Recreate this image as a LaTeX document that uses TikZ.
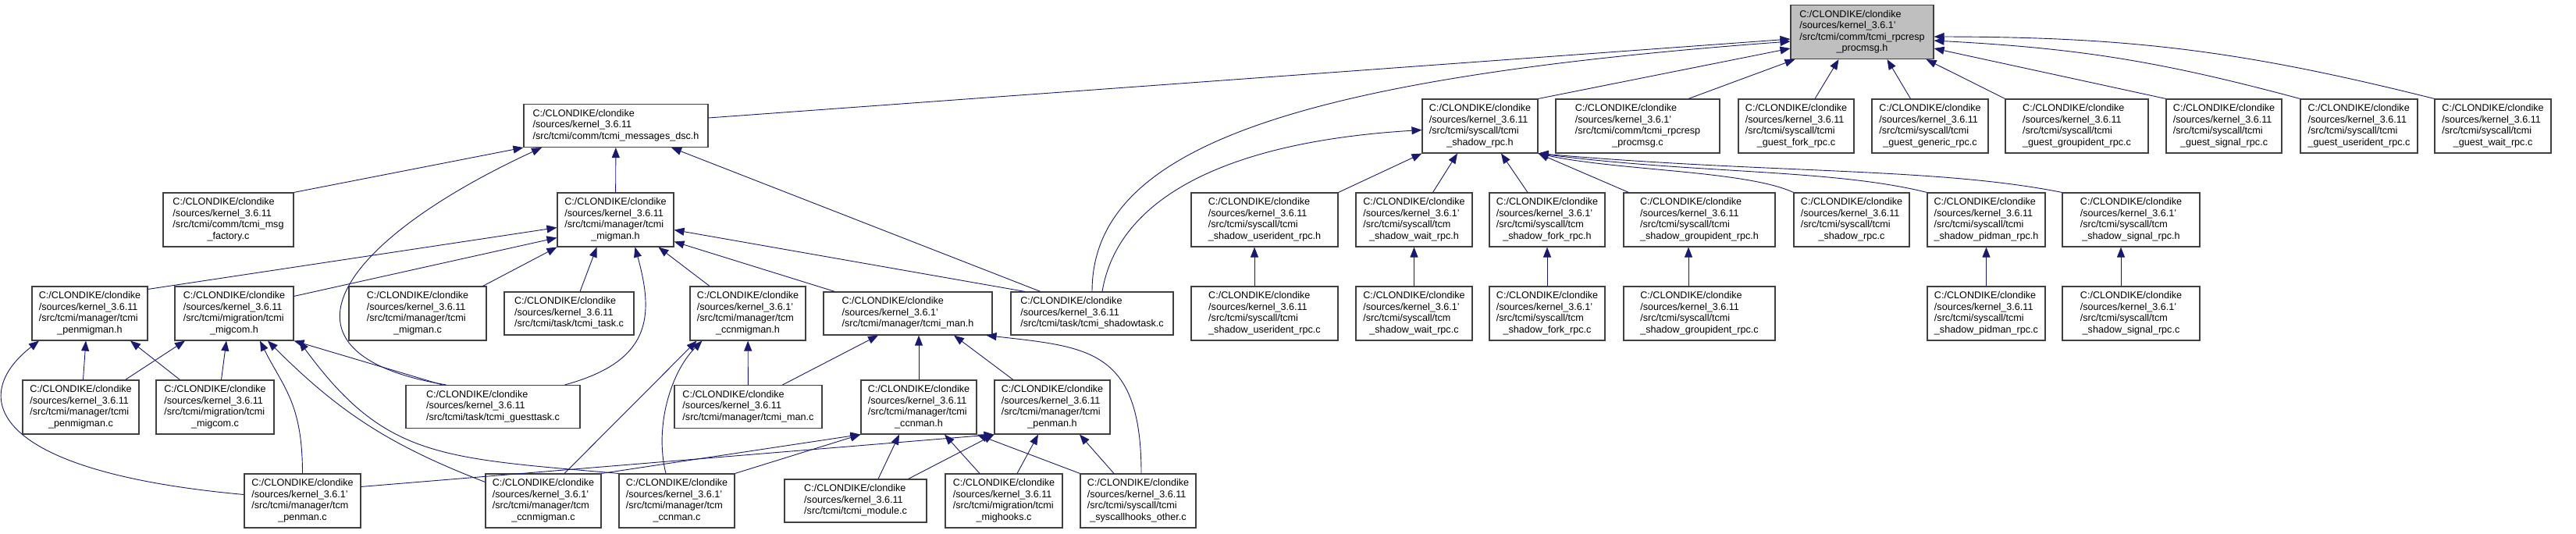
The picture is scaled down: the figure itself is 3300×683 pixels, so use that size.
\documentclass[tikz,border=0pt]{standalone}
\usepackage{fontspec}
\setmainfont{Liberation Sans}
\usepackage{xcolor}
\usepackage{tikz}
\usetikzlibrary{calc,arrows.meta}
\definecolor{edgeblue}{HTML}{191970}
\definecolor{boxline}{HTML}{404040}
\definecolor{rootfill}{HTML}{BFBFBF}
% file label: first three lines flush left, last line centred
\newcommand{\incfile}[3]{\begin{tabular}{@{}l@{}}C:/CLONDIKE/clondike\\#1\\#2\\\multicolumn{1}{@{}c@{}}{#3}\end{tabular}}
\newcommand{\incfileshort}[2]{\begin{tabular}{@{}l@{}}C:/CLONDIKE/clondike\\#1\\#2\end{tabular}}
\tikzset{
  % --- file boxes ---
  incbox/.style={draw=boxline, line width=1.1pt, fill=white, rectangle,
                 inner sep=0pt, minimum height=69pt,
                 font=\fontsize{12.6}{14.5}\selectfont},
  incbox3/.style={incbox, minimum height=55pt},
  rootbox/.style={incbox, fill=rootfill},
  % --- include edges (tip at the included file) ---
  incl/.style={draw=edgeblue, line width=0.9pt,
               -{Triangle[length=13pt,width=10pt]}},
}

\begin{document}
\begin{tikzpicture}[x=1pt,y=1pt]
  \useasboundingbox (0,0) rectangle (3300,-683);

  % --- root header ---
  \node[rootbox, minimum width=183pt] (R) at (2385.5,-41)
        {\incfile{/sources/kernel\_3.6.1'}{/src/tcmi/comm/tcmi\_rpcresp}{\_procmsg.h}};

  % --- row 1 ---
  \node[incbox3, minimum width=236pt] (dsc) at (789,-161)
        {\incfileshort{/sources/kernel\_3.6.11}{/src/tcmi/comm/tcmi\_messages\_dsc.h}};
  \node[incbox, minimum width=148pt] (srh) at (1896,-161.5)
        {\incfile{/sources/kernel\_3.6.11}{/src/tcmi/syscall/tcmi}{\_shadow\_rpc.h}};
  \node[incbox, minimum width=210pt] (rpc) at (2098,-161.5)
        {\incfile{/sources/kernel\_3.6.1'}{/src/tcmi/comm/tcmi\_rpcresp}{\_procmsg.c}};
  \node[incbox, minimum width=148pt] (gfork) at (2301,-161.5)
        {\incfile{/sources/kernel\_3.6.11}{/src/tcmi/syscall/tcmi}{\_guest\_fork\_rpc.c}};
  \node[incbox, minimum width=149pt] (ggen) at (2472.5,-161.5)
        {\incfile{/sources/kernel\_3.6.11}{/src/tcmi/syscall/tcmi}{\_guest\_generic\_rpc.c}};
  \node[incbox, minimum width=183pt] (ggrp) at (2660.5,-161.5)
        {\incfile{/sources/kernel\_3.6.11}{/src/tcmi/syscall/tcmi}{\_guest\_groupident\_rpc.c}};
  \node[incbox, minimum width=148pt] (gsig) at (2849,-161.5)
        {\incfile{/sources/kernel\_3.6.11}{/src/tcmi/syscall/tcmi}{\_guest\_signal\_rpc.c}};
  \node[incbox, minimum width=150pt] (guser) at (3022,-161.5)
        {\incfile{/sources/kernel\_3.6.11}{/src/tcmi/syscall/tcmi}{\_guest\_userident\_rpc.c}};
  \node[incbox, minimum width=149pt] (gwait) at (3193.5,-161.5)
        {\incfile{/sources/kernel\_3.6.11}{/src/tcmi/syscall/tcmi}{\_guest\_wait\_rpc.c}};

  % --- row 2 ---
  \node[incbox, minimum width=167pt] (factory) at (292.5,-281.5)
        {\incfile{/sources/kernel\_3.6.11}{/src/tcmi/comm/tcmi\_msg}{\_factory.c}};
  \node[incbox, minimum width=149pt] (migmanh) at (788.5,-281.5)
        {\incfile{/sources/kernel\_3.6.11}{/src/tcmi/manager/tcmi}{\_migman.h}};
  \node[incbox, minimum width=188pt] (suserh) at (1620,-281.5)
        {\incfile{/sources/kernel\_3.6.11}{/src/tcmi/syscall/tcmi}{\_shadow\_userident\_rpc.h}};
  \node[incbox, minimum width=149pt] (swaith) at (1811.5,-281.5)
        {\incfile{/sources/kernel\_3.6.1'}{/src/tcmi/syscall/tcm}{\_shadow\_wait\_rpc.h}};
  \node[incbox, minimum width=148pt] (sforkh) at (1982,-281.5)
        {\incfile{/sources/kernel\_3.6.1'}{/src/tcmi/syscall/tcm}{\_shadow\_fork\_rpc.h}};
  \node[incbox, minimum width=194pt] (sgrouph) at (2177,-281.5)
        {\incfile{/sources/kernel\_3.6.11}{/src/tcmi/syscall/tcmi}{\_shadow\_groupident\_rpc.h}};
  \node[incbox, minimum width=148pt] (srpcc) at (2372,-281.5)
        {\incfile{/sources/kernel\_3.6.11}{/src/tcmi/syscall/tcmi}{\_shadow\_rpc.c}};
  \node[incbox, minimum width=151pt] (spidh) at (2544.5,-281.5)
        {\incfile{/sources/kernel\_3.6.11}{/src/tcmi/syscall/tcmi}{\_shadow\_pidman\_rpc.h}};
  \node[incbox, minimum width=176pt] (ssigh) at (2730,-281.5)
        {\incfile{/sources/kernel\_3.6.1'}{/src/tcmi/syscall/tcm}{\_shadow\_signal\_rpc.h}};

  % --- row 3 ---
  \node[incbox, minimum width=148pt] (penmigh) at (115,-401.5)
        {\incfile{/sources/kernel\_3.6.11}{/src/tcmi/manager/tcmi}{\_penmigman.h}};
  \node[incbox, minimum width=152pt] (migcomh) at (300,-401.5)
        {\incfile{/sources/kernel\_3.6.11}{/src/tcmi/migration/tcmi}{\_migcom.h}};
  \node[incbox, minimum width=176pt] (migmanc) at (535,-401.5)
        {\incfile{/sources/kernel\_3.6.11}{/src/tcmi/manager/tcmi}{\_migman.c}};
  \node[incbox3, minimum width=166pt] (taskc) at (729,-401.5)
        {\incfileshort{/sources/kernel\_3.6.11}{/src/tcmi/task/tcmi\_task.c}};
  \node[incbox, minimum width=148pt] (ccnmigh) at (958,-401.5)
        {\incfile{/sources/kernel\_3.6.1'}{/src/tcmi/manager/tcm}{\_ccnmigman.h}};
  \node[incbox3, minimum width=216pt] (manh) at (1163,-401.5)
        {\incfileshort{/sources/kernel\_3.6.1'}{/src/tcmi/manager/tcmi\_man.h}};
  \node[incbox3, minimum width=208pt] (stc) at (1399,-401.5)
        {\incfileshort{/sources/kernel\_3.6.11}{/src/tcmi/task/tcmi\_shadowtask.c}};
  \node[incbox, minimum width=188pt] (suserc) at (1620,-401.5)
        {\incfile{/sources/kernel\_3.6.11}{/src/tcmi/syscall/tcmi}{\_shadow\_userident\_rpc.c}};
  \node[incbox, minimum width=149pt] (swaitc) at (1811.5,-401.5)
        {\incfile{/sources/kernel\_3.6.1'}{/src/tcmi/syscall/tcm}{\_shadow\_wait\_rpc.c}};
  \node[incbox, minimum width=148pt] (sforkc) at (1982,-401.5)
        {\incfile{/sources/kernel\_3.6.1'}{/src/tcmi/syscall/tcm}{\_shadow\_fork\_rpc.c}};
  \node[incbox, minimum width=194pt] (sgroupc) at (2177,-401.5)
        {\incfile{/sources/kernel\_3.6.11}{/src/tcmi/syscall/tcmi}{\_shadow\_groupident\_rpc.c}};
  \node[incbox, minimum width=151pt] (spidc) at (2544.5,-401.5)
        {\incfile{/sources/kernel\_3.6.11}{/src/tcmi/syscall/tcmi}{\_shadow\_pidman\_rpc.c}};
  \node[incbox, minimum width=176pt] (ssigc) at (2730,-401.5)
        {\incfile{/sources/kernel\_3.6.1'}{/src/tcmi/syscall/tcm}{\_shadow\_signal\_rpc.c}};

  % --- row 4 ---
  \node[incbox, minimum width=149pt] (penmigc) at (103.5,-521.5)
        {\incfile{/sources/kernel\_3.6.11}{/src/tcmi/manager/tcmi}{\_penmigman.c}};
  \node[incbox, minimum width=151pt] (migcomc) at (275.5,-521.5)
        {\incfile{/sources/kernel\_3.6.11}{/src/tcmi/migration/tcmi}{\_migcom.c}};
  \node[incbox3, minimum width=223pt] (gtc) at (631.5,-521)
        {\incfileshort{/sources/kernel\_3.6.11}{/src/tcmi/task/tcmi\_guesttask.c}};
  \node[incbox3, minimum width=189pt] (manc) at (958.5,-521)
        {\incfileshort{/sources/kernel\_3.6.11}{/src/tcmi/manager/tcmi\_man.c}};
  \node[incbox, minimum width=148pt] (ccnmanh) at (1177,-521.5)
        {\incfile{/sources/kernel\_3.6.11}{/src/tcmi/manager/tcmi}{\_ccnman.h}};
  \node[incbox, minimum width=148pt] (penmanh) at (1348,-521.5)
        {\incfile{/sources/kernel\_3.6.11}{/src/tcmi/manager/tcmi}{\_penman.h}};

  % --- row 5 ---
  \node[incbox, minimum width=149pt] (penmanc) at (387.5,-641.5)
        {\incfile{/sources/kernel\_3.6.1'}{/src/tcmi/manager/tcm}{\_penman.c}};
  \node[incbox, minimum width=148pt] (ccnmigc) at (696,-641.5)
        {\incfile{/sources/kernel\_3.6.1'}{/src/tcmi/manager/tcm}{\_ccnmigman.c}};
  \node[incbox, minimum width=148pt] (ccnmanc) at (867,-641.5)
        {\incfile{/sources/kernel\_3.6.1'}{/src/tcmi/manager/tcm}{\_ccnman.c}};
  \node[incbox3, minimum width=182pt] (modulec) at (1096,-641.5)
        {\incfileshort{/sources/kernel\_3.6.11}{/src/tcmi/tcmi\_module.c}};
  \node[incbox, minimum width=150pt] (mighooksc) at (1286,-641.5)
        {\incfile{/sources/kernel\_3.6.11}{/src/tcmi/migration/tcmi}{\_mighooks.c}};
  \node[incbox, minimum width=148pt] (otherc) at (1458,-641.5)
        {\incfile{/sources/kernel\_3.6.11}{/src/tcmi/syscall/tcmi}{\_syscallhooks\_other.c}};

  % --- edges into the root header ---
  \draw[incl] ([yshift=10pt]dsc.east) -- ([yshift=-9pt]R.west);
  \draw[incl] (stc.north) .. controls ($(stc.north)+(0,180)$) and ($(R.west)+(-650,-60)$) .. ([yshift=-12pt]R.west);
  \draw[incl] (srh.north east) -- ([yshift=-21pt]R.west);
  \draw[incl] ([xshift=65pt]rpc.north) -- ([xshift=6pt]R.south west);
  \draw[incl] ([xshift=24pt]gfork.north) -- ([xshift=-30pt]R.south);
  \draw[incl] ([xshift=-25pt]ggen.north) -- ([xshift=32pt]R.south);
  \draw[incl] (ggrp.north west) -- ([xshift=-10pt]R.south east);
  \draw[incl] (gsig.north west) -- ([yshift=-21pt]R.east);
  \draw[incl] (guser.north west) to[bend right=6] ([yshift=-11pt]R.east);
  \draw[incl] (gwait.north west) to[bend right=7] ([yshift=-6pt]R.east);

  % --- shadow_rpc.h ---
  \draw[incl] ([xshift=13pt]stc.north) .. controls ($(stc.north)+(33,120)$) and ($(srh.west)+(-250,-20)$) .. ([yshift=-5pt]srh.west);
  \draw[incl] (suserh.north east) -- (srh.south west);
  \draw[incl] ([xshift=24pt]swaith.north) -- ([xshift=-29pt]srh.south);
  \draw[incl] ([xshift=-25pt]sforkh.north) -- ([xshift=27pt]srh.south);
  \draw[incl] ([xshift=7pt]sgrouph.north west) -- (srh.south east);
  \draw[incl] (srpcc.north west) .. controls ($(srpcc.north west)+(-60,28)$) and ($(srh.south east)+(100,-22)$) .. (srh.south east);
  \draw[incl] (spidh.north west) .. controls ($(spidh.north west)+(-120,30)$) and ($(srh.south east)+(200,-26)$) .. (srh.south east);
  \draw[incl] (ssigh.north west) .. controls ($(ssigh.north west)+(-160,32)$) and ($(srh.south east)+(300,-26)$) .. (srh.south east);

  % --- shadow sources up to their headers ---
  \draw[incl] ([xshift=-13pt]suserc.north) -- ([xshift=-13pt]suserh.south);
  \draw[incl] (swaitc) -- (swaith);
  \draw[incl] (sforkc) -- (sforkh);
  \draw[incl] ([xshift=-14pt]sgroupc.north) -- ([xshift=-14pt]sgrouph.south);
  \draw[incl] (spidc) -- (spidh);
  \draw[incl] ([xshift=-13pt]ssigc.north) -- ([xshift=-13pt]ssigh.south);

  % --- tcmi_messages_dsc.h ---
  \draw[incl] (factory.north east) -- (dsc.south west);
  \draw[incl] ([xshift=-60pt]gtc.north) .. controls ($(gtc.north)+(-300,40)$) and ($(dsc.south)+(-355,-120)$) .. ([xshift=-95pt]dsc.south);
  \draw[incl] (migmanh) -- (dsc);
  \draw[incl] ([xshift=-66pt]stc.north) -- ([xshift=71pt]dsc.south);

  % --- tcmi_migman.h ---
  \draw[incl] ([yshift=-4pt]penmigh.north east) -- ([yshift=-10pt]migmanh.west);
  \draw[incl] ([yshift=-13pt]migcomh.north east) -- ([yshift=-23pt]migmanh.west);
  \draw[incl] ([xshift=-5pt]migmanc.north east) -- (migmanh.south west);
  \draw[incl] ([xshift=14pt]taskc.north) -- ([xshift=-24pt]migmanh.south);
  \draw[incl] ([xshift=-20pt]gtc.north east) .. controls ($(gtc.north east)+(90,30)$) and ($(migmanh.south)+(50,-90)$) .. ([xshift=25pt]migmanh.south);
  \draw[incl] ([xshift=-49pt]ccnmigh.north) -- ([xshift=55pt]migmanh.south);
  \draw[incl] ([xshift=15pt]manh.north west) -- ([yshift=-28pt]migmanh.east);
  \draw[incl] ([xshift=-86pt]stc.north) -- ([yshift=-13pt]migmanh.east);

  % --- tcmi_penmigman.h ---
  \draw[incl] ([xshift=3pt]penmigc.north) -- ([xshift=-5pt]penmigh.south);
  \draw[incl] ([xshift=-45pt]migcomc.north) -- ([xshift=52pt]penmigh.south);
  \draw[incl] ([yshift=8pt]penmanc.west) .. controls ($(penmanc.west)+(-330,38)$) and ($(penmigh.south)+(-155,-70)$) .. ([xshift=-65pt]penmigh.south);

  % --- tcmi_migcom.h ---
  \draw[incl] ([xshift=57pt]penmigc.north) -- ([xshift=-63pt]migcomh.south);
  \draw[incl] ([xshift=8pt]migcomc.north) -- ([xshift=-10pt]migcomh.south);
  \draw[incl] (penmanc.north) .. controls ($(penmanc.north)+(0,90)$) and ($(migcomh.south)+(63,-60)$) .. ([xshift=33pt]migcomh.south);
  \draw[incl] ([xshift=-65pt]gtc.north) -- (migcomh.south east);
  \draw[incl] ([yshift=-11pt]ccnmigc.north west) to[bend left=12] ([xshift=43pt]migcomh.south);
  \draw[incl] (ccnmanc.north west) .. controls ($(ccnmanc.north west)+(-230,20)$) and ($(migcomh.south)+(193,-150)$) .. ([xshift=83pt]migcomh.south);

  % --- tcmi_ccnmigman.h ---
  \draw[incl] (manc) -- (ccnmigh);
  \draw[incl] ([xshift=27pt]ccnmigc.north) -- ([xshift=9pt]ccnmigh.south west);
  \draw[incl] ([xshift=-14pt]ccnmanc.north) .. controls ($(ccnmanc.north)+(-29,60)$) and ($(ccnmigh.south west)+(-24,-40)$) .. ([xshift=16pt]ccnmigh.south west);

  % --- tcmi_man.h ---
  \draw[incl] ([xshift=44pt]manc.north) -- ([xshift=-38pt]manh.south);
  \draw[incl] (ccnmanh.north) -- (ccnmanh.north |- manh.south);
  \draw[incl] ([xshift=-50pt]penmanh.north) -- ([xshift=59pt]manh.south);
  \draw[incl] ([xshift=4pt]otherc.north) .. controls ($(otherc.north)+(4,160)$) and ($(manh.south east)+(122,-15)$) .. ([xshift=-8pt]manh.south east);

  % --- tcmi_ccnman.h ---
  \draw[incl] (ccnmigc.north east) -- (ccnmanh.south west);
  \draw[incl] (ccnmanc.north east) -- (ccnmanh.south west);
  \draw[incl] ([xshift=29pt]modulec.north) -- ([xshift=-25pt]ccnmanh.south);
  \draw[incl] ([xshift=-31pt]mighooksc.north) -- ([xshift=33pt]ccnmanh.south);
  \draw[incl] (otherc.north west) -- (ccnmanh.south east);

  % --- tcmi_penman.h ---
  \draw[incl] ([yshift=-17pt]penmanc.north east) -- (penmanh.south west);
  \draw[incl] ([xshift=-24pt]modulec.north east) -- (penmanh.south west);
  \draw[incl] ([xshift=17pt]mighooksc.north) -- ([xshift=-18pt]penmanh.south);
  \draw[incl] ([xshift=-31pt]otherc.north) -- ([xshift=35pt]penmanh.south);
\end{tikzpicture}
\end{document}
